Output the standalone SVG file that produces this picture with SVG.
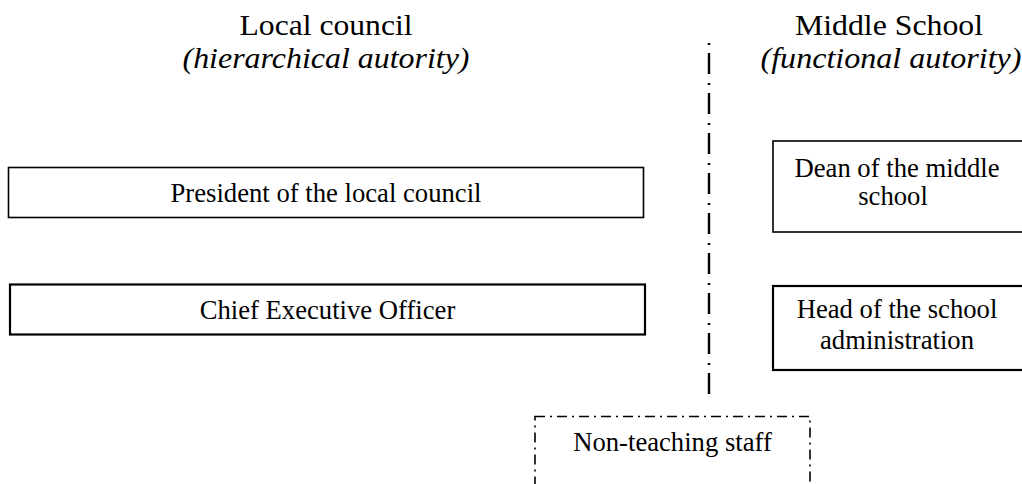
<svg xmlns="http://www.w3.org/2000/svg" width="1022" height="484" viewBox="0 0 1022 484">
<style>
  .bg { fill: #ffffff; }
  .box { fill: #ffffff; stroke: #000000; stroke-width: 1.6; }
  .box2 { fill: #ffffff; stroke: #000000; stroke-width: 2.2; }
  .dashbox { fill: none; stroke: #000000; stroke-width: 1.6; stroke-dasharray: 10 5 2 5; }
  .divider { fill: none; stroke: #000000; stroke-width: 2.4; stroke-dasharray: 2 8 21 9; }
  .title { font-family: "Liberation Serif", "Times New Roman", serif; font-size: 30px; fill: #000000; text-anchor: middle; }
  .sub { font-family: "Liberation Serif", "Times New Roman", serif; font-size: 30px; font-style: italic; fill: #000000; text-anchor: middle; }
  .label { font-family: "Liberation Serif", "Times New Roman", serif; font-size: 26.67px; fill: #000000; text-anchor: middle; }
</style>
<rect class="bg" x="0" y="0" width="1022" height="484"/>

<g id="header-local">
  <text class="title" x="326" y="35" textLength="173" lengthAdjust="spacingAndGlyphs">Local council</text>
  <text class="sub" x="326" y="68" textLength="287" lengthAdjust="spacingAndGlyphs">(hierarchical autority)</text>
</g>
<g id="header-school">
  <text class="title" x="889" y="35" textLength="188" lengthAdjust="spacingAndGlyphs">Middle School</text>
  <text class="sub" x="891" y="68" textLength="261" lengthAdjust="spacingAndGlyphs">(functional autority)</text>
</g>

<g id="divider">
  <line class="divider" x1="709" y1="43" x2="709" y2="396"/>
</g>

<g id="president">
  <rect class="box" x="8.5" y="167.5" width="635" height="50"/>
  <text class="label" x="326" y="202">President of the local council</text>
</g>
<g id="ceo">
  <rect class="box2" x="10" y="284.5" width="635" height="50"/>
  <text class="label" x="327.5" y="319">Chief Executive Officer</text>
</g>
<g id="dean">
  <rect class="box" x="773" y="141" width="254" height="91"/>
  <text class="label" x="897" y="177">Dean of the middle</text>
  <text class="label" x="893" y="205">school</text>
</g>
<g id="head-admin">
  <rect class="box2" x="773" y="286" width="254" height="84"/>
  <text class="label" x="897" y="318">Head of the school</text>
  <text class="label" x="897" y="349">administration</text>
</g>
<g id="non-teaching">
  <rect class="dashbox" x="535" y="416.5" width="275" height="90"/>
  <text class="label" x="672.5" y="451">Non-teaching staff</text>
</g>
<g id="connectors"></g>
</svg>
